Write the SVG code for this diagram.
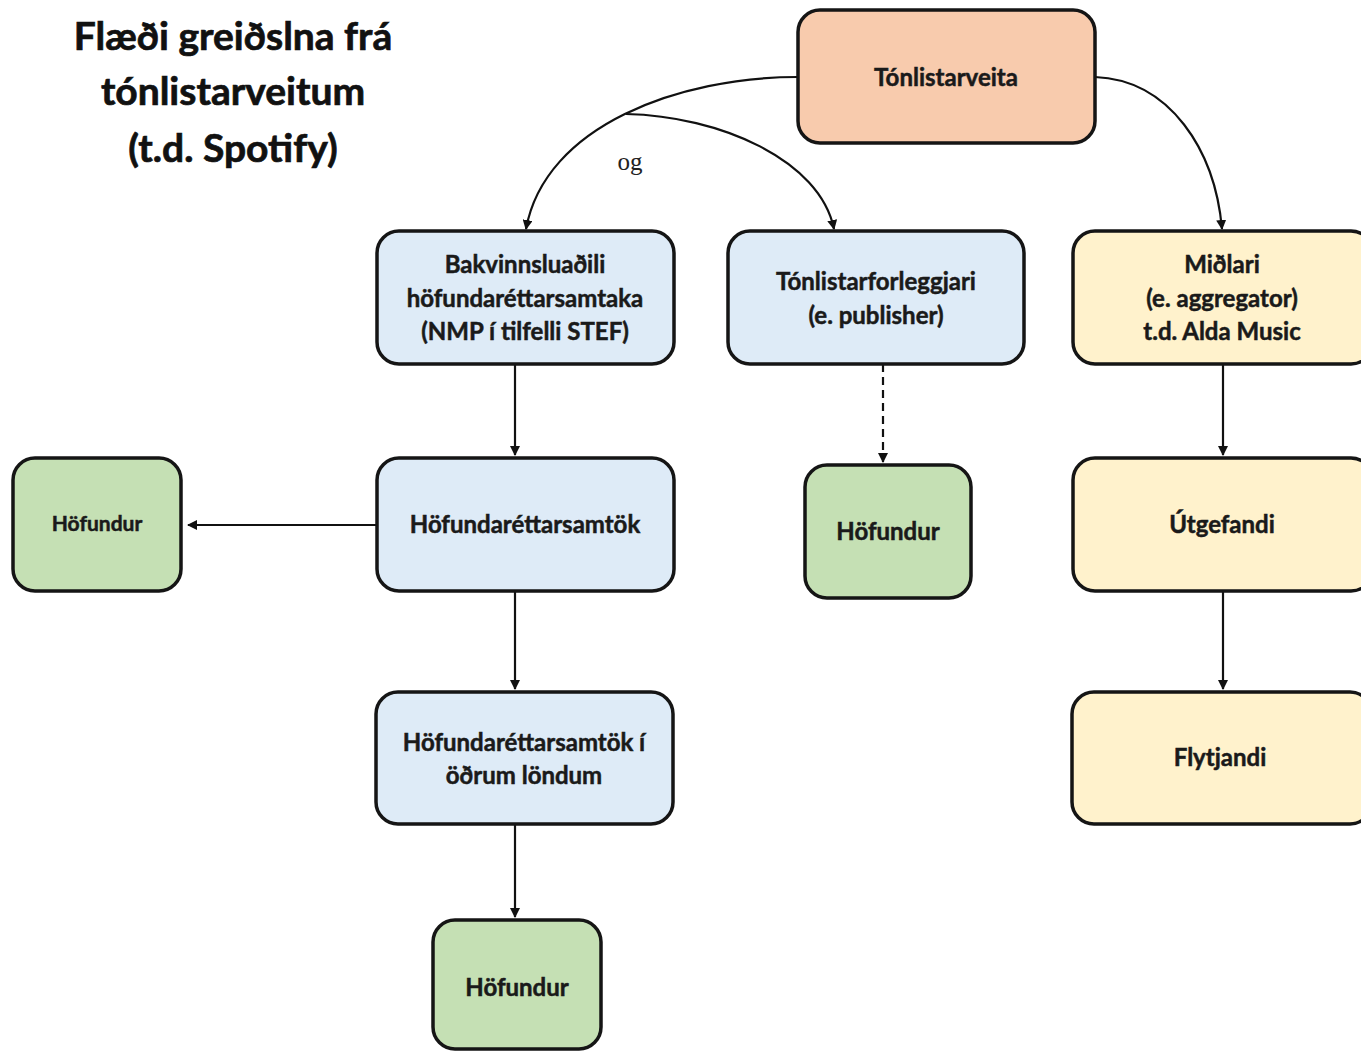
<svg xmlns="http://www.w3.org/2000/svg" width="1361" height="1052" viewBox="0 0 1361 1052">
<defs>
<marker id="ah" markerWidth="10" markerHeight="10" refX="9" refY="5" orient="auto" markerUnits="userSpaceOnUse">
<path d="M0,0 L10,5 L0,10 Z" fill="#111"/>
</marker>
<style>
.box{stroke:#151515;stroke-width:3.5}
.or{fill:#F8CBAD}.bl{fill:#DEEBF7}.ye{fill:#FFF2CC}.gr{fill:#C5E0B4}
.t{font-family:Lato,"Open Sans",sans-serif;font-weight:bold;font-size:24px;fill:#1a1a1a;stroke:#1a1a1a;stroke-width:0.5;text-anchor:middle}
.ttl{font-family:Lato,"Open Sans",sans-serif;font-weight:bold;font-size:39px;fill:#111;stroke:#111;stroke-width:0.7;text-anchor:middle}
.c{fill:none;stroke:#111;stroke-width:2.2}
</style>
</defs>
<rect width="1361" height="1052" fill="#fff"/>
<g id="title">
<text class="ttl" x="233" y="50">Flæði greiðslna frá</text>
<text class="ttl" x="233" y="105">tónlistarveitum</text>
<text class="ttl" x="233" y="162">(t.d. Spotify)</text>
</g>
<g id="connectors">
<path class="c" d="M798,77 C680,77 545,125 526,229" marker-end="url(#ah)"/>
<path class="c" d="M626,114 C720,116 820,160 834,229" marker-end="url(#ah)"/>
<path class="c" d="M1095,77 C1170,80 1215,150 1222,229" marker-end="url(#ah)"/>
<path class="c" d="M515,364 L515,455" marker-end="url(#ah)"/>
<path class="c" d="M377,525 L188,525" marker-end="url(#ah)"/>
<path class="c" d="M515,591 L515,689" marker-end="url(#ah)"/>
<path class="c" d="M515,824 L515,917" marker-end="url(#ah)"/>
<path class="c" d="M883,364 L883,462" stroke-dasharray="8,5" marker-end="url(#ah)"/>
<path class="c" d="M1223,364 L1223,455" marker-end="url(#ah)"/>
<path class="c" d="M1223,591 L1223,689" marker-end="url(#ah)"/>
<text x="630" y="170" font-family="'Liberation Serif',serif" font-size="25" fill="#222" text-anchor="middle">og</text>
</g>
<g id="tonlistarveita">
<rect class="box or" x="798" y="10" width="297" height="133" rx="22"/>
<text class="t" x="946" y="86">Tónlistarveita</text>
</g>
<g id="bakvinnsluadili">
<rect class="box bl" x="377" y="231" width="297" height="133" rx="22"/>
<text class="t" x="525" y="273">Bakvinnsluaðili</text>
<text class="t" x="525" y="307">höfundaréttarsamtaka</text>
<text class="t" x="525" y="340">(NMP í tilfelli STEF)</text>
</g>
<g id="tonlistarforleggjari">
<rect class="box bl" x="728" y="231" width="296" height="133" rx="22"/>
<text class="t" x="876" y="290">Tónlistarforleggjari</text>
<text class="t" x="876" y="324">(e. publisher)</text>
</g>
<g id="midlari">
<rect class="box ye" x="1073" y="231" width="300" height="133" rx="22"/>
<text class="t" x="1222" y="273">Miðlari</text>
<text class="t" x="1222" y="307">(e. aggregator)</text>
<text class="t" x="1222" y="340">t.d. Alda Music</text>
</g>
<g id="hofundarettarsamtok">
<rect class="box bl" x="377" y="458" width="297" height="133" rx="22"/>
<text class="t" x="525" y="533">Höfundaréttarsamtök</text>
</g>
<g id="hofundur-vinstri">
<rect class="box gr" x="13" y="458" width="168" height="133" rx="22"/>
<text class="t" x="97" y="531" style="font-size:21px">Höfundur</text>
</g>
<g id="hofundur-midja">
<rect class="box gr" x="805" y="465" width="166" height="133" rx="22"/>
<text class="t" x="888" y="540">Höfundur</text>
</g>
<g id="utgefandi">
<rect class="box ye" x="1073" y="458" width="300" height="133" rx="22"/>
<text class="t" x="1222" y="533">Útgefandi</text>
</g>
<g id="hofundarettarsamtok-erlendis">
<rect class="box bl" x="376" y="692" width="297" height="132" rx="22"/>
<text class="t" x="524" y="751">Höfundaréttarsamtök í</text>
<text class="t" x="524" y="784">öðrum löndum</text>
</g>
<g id="flytjandi">
<rect class="box ye" x="1072" y="692" width="300" height="132" rx="22"/>
<text class="t" x="1220" y="766">Flytjandi</text>
</g>
<g id="hofundur-nedst">
<rect class="box gr" x="433" y="920" width="168" height="129" rx="22"/>
<text class="t" x="517" y="996">Höfundur</text>
</g>
</svg>
